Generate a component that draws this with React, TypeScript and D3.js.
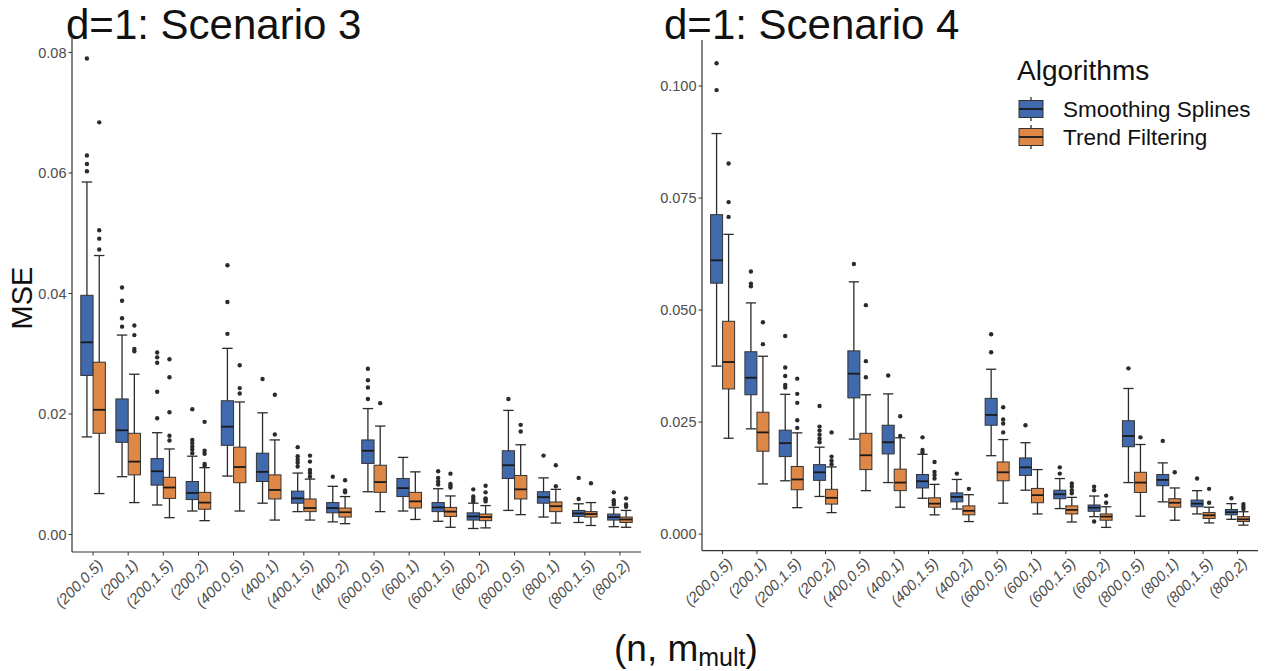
import React from "react";
import * as d3 from "d3";

// ---------- categories / ticks ----------
const categories = [
  "(200,0.5)", "(200,1)", "(200,1.5)", "(200,2)",
  "(400,0.5)", "(400,1)", "(400,1.5)", "(400,2)",
  "(600,0.5)", "(600,1)", "(600,1.5)", "(600,2)",
  "(800,0.5)", "(800,1)", "(800,1.5)", "(800,2)",
];
const algorithms = ["Smoothing Splines", "Trend Filtering"];
const ticksS3 = [0, 0.02, 0.04, 0.06, 0.08];
const ticksS4 = [0, 0.025, 0.05, 0.075, 0.1];

// ---------- Scenario 3 : [whiskerLow, Q1, median, Q3, whiskerHigh] ----------
const s3SplineStats = [
  [0.0162, 0.0264, 0.0319, 0.0397, 0.0585],
  [0.0096, 0.0153, 0.0173, 0.0225, 0.0331],
  [0.0049, 0.0082, 0.0105, 0.0126, 0.0169],
  [0.0039, 0.0058, 0.0069, 0.0088, 0.0130],
  [0.0097, 0.0148, 0.0179, 0.0222, 0.0309],
  [0.0052, 0.0088, 0.0104, 0.0135, 0.0202],
  [0.0038, 0.0052, 0.0060, 0.0072, 0.0102],
  [0.0021, 0.0036, 0.0044, 0.0053, 0.0080],
  [0.0071, 0.0118, 0.0139, 0.0157, 0.0209],
  [0.0039, 0.0063, 0.0077, 0.0093, 0.0128],
  [0.0022, 0.0038, 0.0045, 0.0053, 0.0076],
  [0.0010, 0.0024, 0.0030, 0.0036, 0.0052],
  [0.0040, 0.0093, 0.0115, 0.0139, 0.0206],
  [0.0029, 0.0052, 0.0062, 0.0071, 0.0094],
  [0.0020, 0.0030, 0.0035, 0.0040, 0.0051],
  [0.0013, 0.0024, 0.0029, 0.0034, 0.0045],
];
const s3SplineOutliers = [
  [0.0790, 0.0629, 0.0615, 0.0603],
  [0.0410, 0.0388, 0.0359, 0.0345],
  [0.0302, 0.0294, 0.0285, 0.0237, 0.0193],
  [0.0208, 0.0157, 0.0152, 0.0146, 0.0141, 0.0135],
  [0.0447, 0.0386, 0.0333],
  [0.0258],
  [0.0145, 0.0130, 0.0124, 0.0119, 0.0113],
  [0.0096],
  [0.0275, 0.0256, 0.0244, 0.0225],
  [],
  [0.0105, 0.0094, 0.0088, 0.0083],
  [0.0075, 0.0063, 0.0059, 0.0055],
  [0.0225],
  [0.0131],
  [0.0094, 0.0059],
  [0.0070, 0.0057, 0.0053, 0.0050],
];
const s3TrendStats = [
  [0.0068, 0.0168, 0.0207, 0.0286, 0.0463],
  [0.0053, 0.0099, 0.0121, 0.0168, 0.0266],
  [0.0028, 0.0060, 0.0078, 0.0095, 0.0142],
  [0.0023, 0.0042, 0.0053, 0.0070, 0.0111],
  [0.0039, 0.0086, 0.0112, 0.0145, 0.0220],
  [0.0024, 0.0059, 0.0074, 0.0099, 0.0157],
  [0.0024, 0.0038, 0.0044, 0.0059, 0.0092],
  [0.0018, 0.0029, 0.0037, 0.0044, 0.0063],
  [0.0038, 0.0070, 0.0087, 0.0115, 0.0180],
  [0.0025, 0.0044, 0.0055, 0.0070, 0.0104],
  [0.0012, 0.0030, 0.0038, 0.0045, 0.0064],
  [0.0011, 0.0023, 0.0029, 0.0034, 0.0048],
  [0.0033, 0.0059, 0.0075, 0.0098, 0.0149],
  [0.0019, 0.0038, 0.0047, 0.0054, 0.0075],
  [0.0015, 0.0029, 0.0034, 0.0038, 0.0053],
  [0.0012, 0.0020, 0.0025, 0.0029, 0.0040],
];
const s3TrendOutliers = [
  [0.0684, 0.0505, 0.0491, 0.0473],
  [0.0347, 0.0331, 0.0308, 0.0304],
  [0.0291, 0.0261, 0.0203, 0.0164, 0.0156],
  [0.0187, 0.0139, 0.0134, 0.0117, 0.0114],
  [0.0281, 0.0243, 0.0234],
  [0.0232, 0.0166],
  [0.0131, 0.0121, 0.0107, 0.0102, 0.0096],
  [0.0090, 0.0073, 0.0070],
  [0.0218],
  [],
  [0.0101, 0.0084, 0.0081, 0.0078],
  [0.0081, 0.0070, 0.0060, 0.0058, 0.0055],
  [0.0182, 0.0171],
  [0.0115, 0.0080],
  [0.0085],
  [0.0060, 0.0050, 0.0046],
];

// ---------- Scenario 4 ----------
const s4SplineStats = [
  [0.0375, 0.0560, 0.0611, 0.0713, 0.0894],
  [0.0235, 0.0311, 0.0349, 0.0407, 0.0516],
  [0.0119, 0.0173, 0.0203, 0.0232, 0.0312],
  [0.0084, 0.0120, 0.0138, 0.0155, 0.0194],
  [0.0212, 0.0304, 0.0358, 0.0409, 0.0563],
  [0.0115, 0.0179, 0.0205, 0.0243, 0.0313],
  [0.0080, 0.0103, 0.0118, 0.0133, 0.0178],
  [0.0056, 0.0072, 0.0083, 0.0092, 0.0122],
  [0.0175, 0.0243, 0.0266, 0.0303, 0.0368],
  [0.0098, 0.0131, 0.0149, 0.0170, 0.0204],
  [0.0057, 0.0079, 0.0089, 0.0098, 0.0124],
  [0.0039, 0.0051, 0.0059, 0.0065, 0.0085],
  [0.0115, 0.0195, 0.0219, 0.0253, 0.0325],
  [0.0072, 0.0108, 0.0121, 0.0133, 0.0159],
  [0.0045, 0.0061, 0.0068, 0.0076, 0.0097],
  [0.0033, 0.0043, 0.0049, 0.0055, 0.0068],
];
const s4SplineOutliers = [
  [0.1051, 0.0991],
  [0.0586, 0.0559, 0.0553],
  [0.0442, 0.0372, 0.0353, 0.0333, 0.0327],
  [0.0286, 0.0240, 0.0231, 0.0222, 0.0213, 0.0205],
  [0.0603],
  [0.0354],
  [0.0216, 0.0188, 0.0182],
  [0.0135],
  [0.0446, 0.0406],
  [0.0243],
  [0.0149, 0.0135],
  [0.0106, 0.0098, 0.0028],
  [0.0370],
  [0.0208],
  [0.0124],
  [0.0080],
];
const s4TrendStats = [
  [0.0214, 0.0324, 0.0384, 0.0475, 0.0669],
  [0.0112, 0.0185, 0.0227, 0.0272, 0.0397],
  [0.0059, 0.0099, 0.0122, 0.0151, 0.0226],
  [0.0048, 0.0067, 0.0081, 0.0100, 0.0150],
  [0.0097, 0.0144, 0.0176, 0.0225, 0.0311],
  [0.0060, 0.0097, 0.0115, 0.0145, 0.0215],
  [0.0043, 0.0060, 0.0068, 0.0081, 0.0111],
  [0.0028, 0.0043, 0.0052, 0.0063, 0.0088],
  [0.0069, 0.0119, 0.0138, 0.0161, 0.0211],
  [0.0045, 0.0070, 0.0087, 0.0102, 0.0144],
  [0.0027, 0.0045, 0.0054, 0.0063, 0.0082],
  [0.0015, 0.0031, 0.0039, 0.0045, 0.0061],
  [0.0040, 0.0093, 0.0115, 0.0138, 0.0200],
  [0.0031, 0.0060, 0.0070, 0.0079, 0.0103],
  [0.0025, 0.0035, 0.0042, 0.0048, 0.0060],
  [0.0020, 0.0028, 0.0033, 0.0039, 0.0050],
];
const s4TrendOutliers = [
  [0.0827, 0.0741, 0.0708],
  [0.0473, 0.0424],
  [0.0347, 0.0313, 0.0293, 0.0254, 0.0237],
  [0.0227, 0.0173, 0.0164, 0.0156],
  [0.0511, 0.0386, 0.0350],
  [0.0263, 0.0219],
  [0.0161, 0.0139, 0.0132, 0.0124],
  [0.0101],
  [0.0283, 0.0256, 0.0247, 0.0227],
  [],
  [0.0113, 0.0106, 0.0098, 0.0091],
  [0.0086, 0.0070],
  [0.0216],
  [0.0138],
  [0.0101, 0.0070],
  [0.0067, 0.0061, 0.0056],
];

const COLORS = ["#4169AD", "#DE8746"];
const FONT = "'Liberation Sans', Arial, Helvetica, sans-serif";
const INK = "#2b2b2b";
const TICK_TEXT = "#4d4d4d";

type Panel = {
  title: string;
  x0: number; x1: number; yTop: number; yBottom: number;
  titleX: number;
  ticks: number[]; fmt: string;
  stats: number[][][]; outliers: number[][][];
};

const panels: Panel[] = [
  {
    title: "d=1: Scenario 3", x0: 72, x1: 641, yTop: 35, yBottom: 552, titleX: 66,
    ticks: ticksS3, fmt: ".2f",
    stats: [s3SplineStats, s3TrendStats], outliers: [s3SplineOutliers, s3TrendOutliers],
  },
  {
    title: "d=1: Scenario 4", x0: 702, x1: 1258, yTop: 40, yBottom: 550.6, titleX: 664,
    ticks: ticksS4, fmt: ".3f",
    stats: [s4SplineStats, s4TrendStats], outliers: [s4SplineOutliers, s4TrendOutliers],
  },
];

function PanelView({ p }: { p: Panel }) {
  const allVals: number[] = [];
  p.stats.forEach((s) => s.forEach((r) => allVals.push(...r)));
  p.outliers.forEach((s) => s.forEach((r) => allVals.push(...r)));
  const [mn, mx] = d3.extent(allVals) as [number, number];
  const pad = (mx - mn) * 0.05;
  const y = d3.scaleLinear().domain([mn - pad, mx + pad]).range([p.yBottom, p.yTop]);
  const x = d3.scaleLinear().domain([-0.6, categories.length - 1 + 0.6]).range([p.x0, p.x1]);
  const step = x(1) - x(0);
  const dodge = 0.7 * step;
  const bw = dodge / 2;
  const fmt = d3.format(p.fmt);

  return (
    <g>
      <text x={p.titleX} y={39} fontSize={42} fontFamily={FONT} fill="#111">{p.title}</text>
      {/* boxes */}
      {p.stats.map((series, a) =>
        series.map((st, i) => {
          const cx = x(i) + (a === 0 ? -bw / 2 : bw / 2);
          const [lo, q1, med, q3, hi] = st;
          const capW = bw * 0.85;
          return (
            <g key={`${a}-${i}`}>
              <line x1={cx} x2={cx} y1={y(lo)} y2={y(hi)} stroke={INK} strokeWidth={1.3} />
              <line x1={cx - capW / 2} x2={cx + capW / 2} y1={y(hi)} y2={y(hi)} stroke={INK} strokeWidth={1.3} />
              <line x1={cx - capW / 2} x2={cx + capW / 2} y1={y(lo)} y2={y(lo)} stroke={INK} strokeWidth={1.3} />
              <rect x={cx - bw / 2} y={y(q3)} width={bw} height={Math.max(0.5, y(q1) - y(q3))}
                fill={COLORS[a]} stroke="#333" strokeWidth={1} />
              <line x1={cx - bw / 2} x2={cx + bw / 2} y1={y(med)} y2={y(med)} stroke="#1a1a1a" strokeWidth={1.8} />
              {p.outliers[a][i].map((v, k) => (
                <circle key={k} cx={cx} cy={y(v)} r={2.2} fill={INK} />
              ))}
            </g>
          );
        })
      )}
      {/* y axis */}
      <line x1={p.x0} x2={p.x0} y1={p.yTop} y2={p.yBottom} stroke="#333" strokeWidth={1.2} />
      {p.ticks.map((t) => (
        <g key={t}>
          <line x1={p.x0 - 3.5} x2={p.x0} y1={y(t)} y2={y(t)} stroke="#333" strokeWidth={1} />
          <text x={p.x0 - 5.5} y={y(t)} dy="0.35em" textAnchor="end" fontSize={14.5}
            fontFamily={FONT} fill={TICK_TEXT}>{fmt(t)}</text>
        </g>
      ))}
      {/* x axis */}
      <line x1={p.x0} x2={p.x1} y1={p.yBottom} y2={p.yBottom} stroke="#333" strokeWidth={1.2} />
      {categories.map((c, i) => (
        <g key={c}>
          <line x1={x(i)} x2={x(i)} y1={p.yBottom} y2={p.yBottom + 3.5} stroke="#333" strokeWidth={1} />
          <text transform={`translate(${x(i) + 3},${p.yBottom + 6}) rotate(-45)`} textAnchor="end"
            dy="0.75em" fontSize={15} fontFamily={FONT} fill={TICK_TEXT} fontStyle="italic">{c}</text>
        </g>
      ))}
    </g>
  );
}

export default function App() {
  const legendKeysY = [109, 137];
  return (
    <svg width={1268} height={671} style={{ position: "absolute", left: 0, top: 0, background: "#fff" }}>
      <rect width={1268} height={671} fill="#fff" />
      {panels.map((p) => <PanelView key={p.title} p={p} />)}
      {/* y title */}
      <text transform="translate(32,298) rotate(-90)" textAnchor="middle" fontSize={29}
        fontFamily={FONT} fill="#111">MSE</text>
      {/* x title */}
      <text x={614} y={661} fontSize={37} fontFamily={FONT} fill="#111">
        (n, m<tspan fontSize={25} dy={5}>mult</tspan><tspan dy={-5}>)</tspan>
      </text>
      {/* legend */}
      <text x={1017} y={80} fontSize={28} fontFamily={FONT} fill="#111">Algorithms</text>
      {algorithms.map((alg, a) => {
        const cy = legendKeysY[a];
        const kx = 1031;
        return (
          <g key={alg}>
            <line x1={kx} x2={kx} y1={cy - 12} y2={cy + 12} stroke={INK} strokeWidth={1.3} />
            <rect x={kx - 12} y={cy - 8.5} width={24} height={17} fill={COLORS[a]} stroke="#333" strokeWidth={1} />
            <line x1={kx - 12} x2={kx + 12} y1={cy} y2={cy} stroke="#1a1a1a" strokeWidth={1.8} />
            <text x={1063} y={cy} dy="0.36em" fontSize={22.5} fontFamily={FONT} fill="#111">{alg}</text>
          </g>
        );
      })}
    </svg>
  );
}
